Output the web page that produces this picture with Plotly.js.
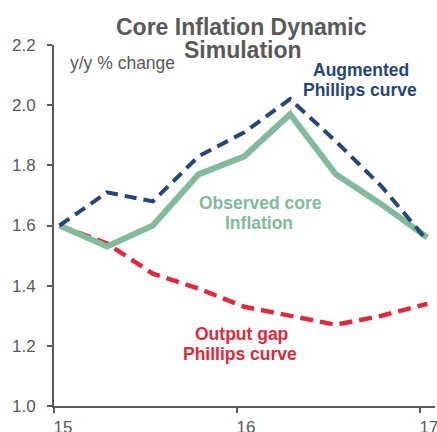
<!DOCTYPE html>
<html>
<head>
<meta charset="utf-8">
<script src="https://cdn.plot.ly/plotly-3.0.1.min.js"></script>
<style>html,body{margin:0;padding:0;background:#fff}#chart{width:437px;height:432px}</style>
</head>
<body>
<div id="chart"></div>
<script>
// Quarterly observations (year axis: 15 = 2015)
const quarters = [15.03, 15.29, 15.54, 15.79, 16.04, 16.29, 16.54, 16.79, 17.04];
const observedCore = [1.60, 1.53, 1.60, 1.77, 1.83, 1.97, 1.77, 1.67, 1.56];
const augmentedPC = [1.60, 1.71, 1.68, 1.83, 1.91, 2.02, 1.88, 1.73, 1.55];
const outputGapPC = [1.60, 1.54, 1.44, 1.39, 1.33, 1.30, 1.27, 1.30, 1.34];
const xTickVals = [15, 16, 17];
const xTickText = ['15', '16', '17'];
const yTickVals = [1.0, 1.2, 1.4, 1.6, 1.8, 2.0, 2.2];

const GREEN = '#82ba9d', NAVY = '#24467a', RED = '#e3283b', GREY = '#595959';
const FONT = 'Liberation Sans, Arial, sans-serif';

// plot area in pixels
const L = 54, T = 45, W = 381, H = 361;
const px = x => (x - L) / W;
const py = y => (T + H - y) / H;

function label(text, x, y, color, size, bold, xanchor) {
  return {
    text: text, xref: 'paper', yref: 'paper', x: px(x), y: py(y),
    xanchor: xanchor || 'center', yanchor: 'middle', showarrow: false,
    font: {family: FONT, size: size, color: color, weight: bold ? 700 : 400}
  };
}

const traces = [
  {x: quarters, y: outputGapPC, mode: 'lines', name: 'Output gap Phillips curve',
   line: {color: RED, width: 4.5, dash: '13px,7px'}},
  {x: quarters, y: observedCore, mode: 'lines', name: 'Observed core Inflation',
   line: {color: GREEN, width: 6}},
  {x: quarters, y: augmentedPC, mode: 'lines', name: 'Augmented Phillips curve',
   line: {color: NAVY, width: 4, dash: '12px,7px'}}
];

const layout = {
  width: 437, height: 432,
  margin: {l: L, r: 437 - L - W, t: T, b: 432 - T - H, pad: 0},
  paper_bgcolor: '#fff', plot_bgcolor: '#fff',
  showlegend: false,
  font: {family: FONT, color: GREY, size: 17},
  xaxis: {
    range: [15, 17 + 15 / 183], tickvals: xTickVals, ticktext: xTickText,
    showgrid: false, zeroline: false, showline: true, linecolor: GREY, linewidth: 2,
    ticks: 'outside', ticklen: 5, tickwidth: 2, tickcolor: GREY,
    tickfont: {family: FONT, size: 17, color: GREY}, ticklabelshift: 9,
    ticklabeloverflow: 'allow'
  },
  yaxis: {
    range: [1.0, 2.2], tickvals: yTickVals, tickformat: '.1f',
    showgrid: false, zeroline: false, showline: true, linecolor: GREY, linewidth: 2,
    ticks: 'outside', ticklen: 5, tickwidth: 2, tickcolor: GREY,
    tickfont: {family: FONT, size: 17, color: GREY}, ticklabelstandoff: 8
  },
  annotations: [
    label('Core Inflation Dynamic', 241, 27, GREY, 23, true),
    label('Simulation', 243, 50, GREY, 23, true),
    label('y/y % change', 68, 63, GREY, 17.5, false, 'left'),
    label('Augmented', 361, 70, NAVY, 17.5, true),
    label('Phillips curve', 360, 90, NAVY, 17.5, true),
    label('Observed core', 260, 203, GREEN, 17.5, true),
    label('Inflation', 259, 223, GREEN, 17.5, true),
    label('Output gap', 241, 334, RED, 17.5, true),
    label('Phillips curve', 240, 354, RED, 17.5, true)
  ]
};

Plotly.newPlot('chart', traces, layout, {displayModeBar: false, staticPlot: true});
</script>
</body>
</html>
